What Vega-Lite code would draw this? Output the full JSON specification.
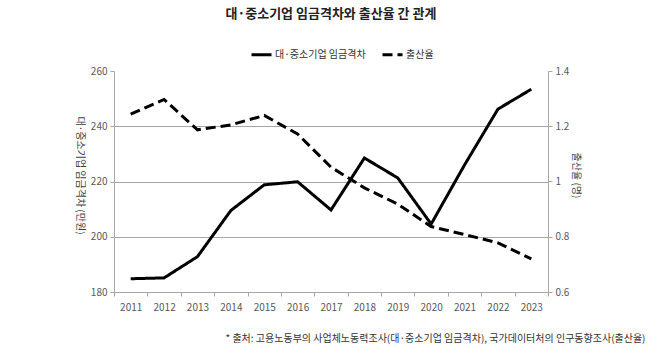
{
  "$schema": "https://vega.github.io/schema/vega-lite/v6.json",
  "width": 434,
  "height": 221,
  "autosize": {"type": "none"},
  "padding": {"left": 114, "top": 71, "right": 110, "bottom": 61},
  "background": "white",
  "config": {
    "font": "Noto Sans CJK KR",
    "view": {"stroke": null},
    "axis": {
      "labelFontSize": 10,
      "labelColor": "#595959",
      "titleFontSize": 10,
      "titleFontWeight": "normal",
      "titleColor": "#404040",
      "domainColor": "#a6a6a6",
      "tickColor": "#a6a6a6",
      "gridColor": "#a6a6a6",
      "tickSize": 4
    }
  },
  "title": {
    "text": "대·중소기업 임금격차와 출산율 간 관계",
    "fontSize": 13,
    "fontWeight": "bold",
    "color": "#222222",
    "anchor": "middle",
    "frame": "group",
    "offset": 22
  },
  "data": {
    "values": [
      {"year": "2011", "series": "대·중소기업 임금격차", "value": 184.8},
      {"year": "2012", "series": "대·중소기업 임금격차", "value": 185.1},
      {"year": "2013", "series": "대·중소기업 임금격차", "value": 192.8},
      {"year": "2014", "series": "대·중소기업 임금격차", "value": 209.5},
      {"year": "2015", "series": "대·중소기업 임금격차", "value": 218.8},
      {"year": "2016", "series": "대·중소기업 임금격차", "value": 219.9},
      {"year": "2017", "series": "대·중소기업 임금격차", "value": 209.7},
      {"year": "2018", "series": "대·중소기업 임금격차", "value": 228.5},
      {"year": "2019", "series": "대·중소기업 임금격차", "value": 221.3},
      {"year": "2020", "series": "대·중소기업 임금격차", "value": 204.6},
      {"year": "2021", "series": "대·중소기업 임금격차", "value": 226.0},
      {"year": "2022", "series": "대·중소기업 임금격차", "value": 246.2},
      {"year": "2023", "series": "대·중소기업 임금격차", "value": 253.4},
      {"year": "2011", "series": "출산율", "value": 1.244},
      {"year": "2012", "series": "출산율", "value": 1.297},
      {"year": "2013", "series": "출산율", "value": 1.187},
      {"year": "2014", "series": "출산율", "value": 1.205},
      {"year": "2015", "series": "출산율", "value": 1.239},
      {"year": "2016", "series": "출산율", "value": 1.172},
      {"year": "2017", "series": "출산율", "value": 1.052},
      {"year": "2018", "series": "출산율", "value": 0.977},
      {"year": "2019", "series": "출산율", "value": 0.918},
      {"year": "2020", "series": "출산율", "value": 0.837},
      {"year": "2021", "series": "출산율", "value": 0.808},
      {"year": "2022", "series": "출산율", "value": 0.778},
      {"year": "2023", "series": "출산율", "value": 0.72}
    ]
  },
  "encoding": {
    "x": {
      "field": "year",
      "type": "ordinal",
      "bandPosition": 0.5,
      "scale": {"type": "band", "paddingInner": 0, "paddingOuter": 0},
      "axis": {
        "labelAngle": 0,
        "tickBand": "extent",
        "labelPadding": 6,
        "title": "* 출처: 고용노동부의 사업체노동력조사(대·중소기업 임금격차), 국가데이터처의 인구동향조사(출산율)",
        "titleFontSize": 10,
        "titleColor": "#333333",
        "titleX": 531,
        "titleY": 49,
        "titleAlign": "right",
        "titleBaseline": "alphabetic"
      }
    },
    "strokeDash": {
      "field": "series",
      "type": "nominal",
      "scale": {"domain": ["대·중소기업 임금격차", "출산율"], "range": [[1, 0], [10, 5]]},
      "legend": {
        "title": null,
        "orient": "none",
        "direction": "horizontal",
        "legendX": 136,
        "legendY": -28,
        "symbolType": "stroke",
        "symbolSize": 400,
        "symbolStrokeWidth": 3,
        "symbolStrokeColor": "black",
        "labelFontSize": 10,
        "labelColor": "#333333",
        "columnPadding": 10,
        "labelOffset": 2
      }
    }
  },
  "layer": [
    {
      "transform": [{"filter": "datum.series == '대·중소기업 임금격차'"}],
      "mark": {"type": "line", "color": "black", "strokeWidth": 3},
      "encoding": {
        "y": {
          "field": "value",
          "type": "quantitative",
          "scale": {"domain": [180, 260], "nice": false, "zero": false},
          "axis": {
            "orient": "left",
            "values": [180, 200, 220, 240, 260],
            "grid": true,
            "gridOpacity": {"condition": {"test": "datum.value == 260", "value": 0}, "value": 1},
            "title": "대·중소기업 임금격차 (만원)",
            "titleAngle": 90,
            "titleX": -35,
            "titleY": 104,
            "titleAlign": "center",
            "titleBaseline": "middle",
            "labelPadding": 3
          }
        }
      }
    },
    {
      "transform": [{"filter": "datum.series == '출산율'"}],
      "mark": {"type": "line", "color": "black", "strokeWidth": 3},
      "encoding": {
        "y": {
          "field": "value",
          "type": "quantitative",
          "scale": {"domain": [0.6, 1.4], "nice": false, "zero": false},
          "axis": {
            "orient": "right",
            "values": [0.6, 0.8, 1, 1.2, 1.4],
            "format": "~g",
            "grid": false,
            "title": "출산율 (명)",
            "titleAngle": 90,
            "titleX": 27,
            "titleY": 104,
            "titleAlign": "center",
            "titleBaseline": "middle",
            "labelPadding": 3
          }
        }
      }
    }
  ],
  "resolve": {"scale": {"y": "independent"}}
}
